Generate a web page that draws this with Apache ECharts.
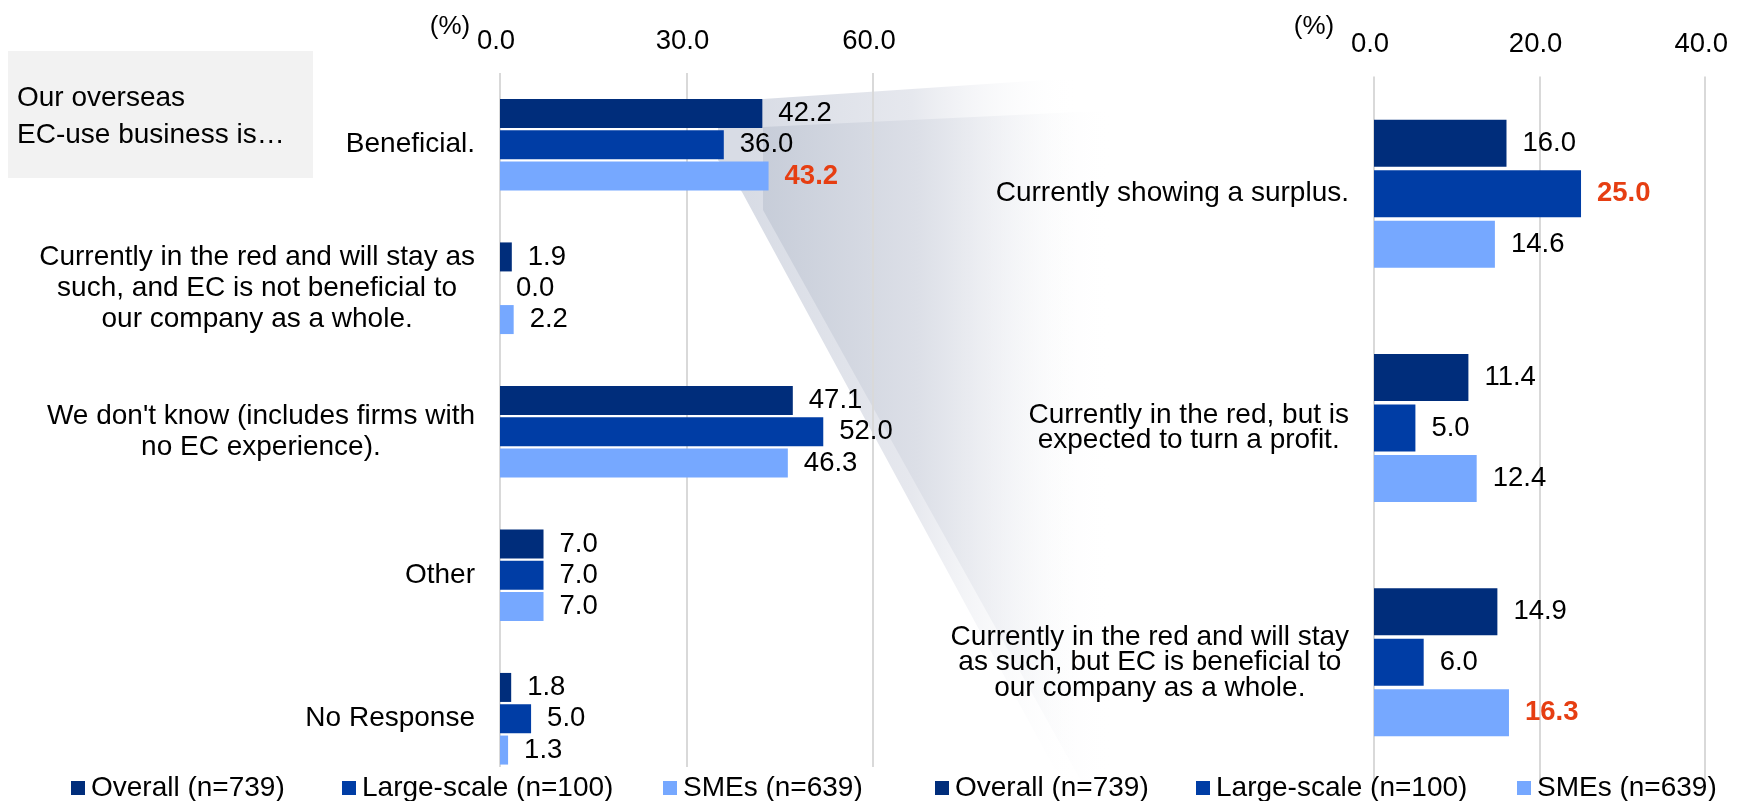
<!DOCTYPE html>
<html>
<head>
<meta charset="utf-8">
<script src="https://cdn.jsdelivr.net/npm/echarts@6/dist/echarts.min.js"></script>
<style>
  html, body { margin: 0; padding: 0; background: #ffffff; }
  #chart { width: 1739px; height: 801px; }
</style>
</head>
<body>
<div id="chart"></div>
<script>
// Survey: is the overseas EC-use business beneficial? (%)
const seriesNames = ['Overall (n=739)', 'Large-scale (n=100)', 'SMEs (n=639)'];

// Left panel: all respondents
const leftCategories = [
  'Beneficial.',
  'Currently in the red and will stay as\nsuch, and EC is not beneficial to\nour company as a whole.',
  "We don't know (includes firms with\nno EC experience).",
  'Other',
  'No Response'
];
const leftOverall = [42.2, 1.9, 47.1, 7.0, 1.8];
const leftLarge   = [36.0, 0.0, 52.0, 7.0, 5.0];
const leftSmes    = [43.2, 2.2, 46.3, 7.0, 1.3];
const leftAxisTicks = [0, 30, 60];

// Right panel: breakdown of "Beneficial."
const rightCategories = [
  'Currently showing a surplus.',
  'Currently in the red, but is\nexpected to turn a profit.',
  'Currently in the red and will stay\nas such, but EC is beneficial to\nour company as a whole.'
];
const rightOverall = [16.0, 11.4, 14.9];
const rightLarge   = [25.0, 5.0, 6.0];
const rightSmes    = [14.6, 12.4, 16.3];
const rightAxisTicks = [0, 20, 40];

// Highlighted values: [series index, category index]
const leftHighlights  = [[2, 0]];
const rightHighlights = [[1, 0], [2, 2]];

const boxTitle = 'Our overseas\nEC-use business is\u2026';
const unitText = '(%)';

const FONT = 'Arial, "Liberation Sans", sans-serif';
const COLORS = ['#002D7B', '#003DA5', '#76A8FF'];
const HILITE = '#E63E12';
const GRID_LINE = '#D9D9D9';

function buildData(values, seriesIdx, highlights) {
  return values.map((v, i) => {
    const hit = highlights.some(h => h[0] === seriesIdx && h[1] === i);
    return hit ? { value: v, label: { color: HILITE, fontWeight: 'bold' } } : { value: v };
  });
}

function barSeries(name, values, idx, axisIdx, highlights, barWidth, barGap) {
  return {
    name: name,
    type: 'bar',
    xAxisIndex: axisIdx,
    yAxisIndex: axisIdx,
    barWidth: barWidth,
    barGap: barGap,
    itemStyle: { color: COLORS[idx] },
    label: {
      show: true,
      position: 'right',
      distance: 16,
      fontFamily: FONT,
      fontSize: 27.5,
      color: '#000000',
      formatter: p => Number(p.value).toFixed(1)
    },
    emphasis: { disabled: true },
    data: buildData(values, idx, highlights),
    z: 3
  };
}

function centeredLines(v) {
  return v.split('\n').map(s => '{c|' + s + '}').join('\n');
}

function categoryAxis(gridIndex, data, lineHeight) {
  return {
    type: 'category',
    gridIndex: gridIndex,
    inverse: true,
    data: data,
    axisLine: { show: false },
    axisTick: { show: false },
    splitLine: { show: false },
    axisLabel: {
      margin: 25,
      formatter: centeredLines,
      rich: {
        c: { align: 'center', fontFamily: FONT, fontSize: 28, lineHeight: lineHeight, color: '#000000' }
      }
    }
  };
}

function valueAxis(gridIndex, ticks, showAxis) {
  return {
    type: 'value',
    gridIndex: gridIndex,
    position: 'top',
    min: ticks[0],
    max: ticks[ticks.length - 1],
    interval: ticks[1] - ticks[0],
    show: showAxis,
    axisLine: { show: false },
    axisTick: { show: false },
    splitLine: { show: true, lineStyle: { color: GRID_LINE, width: 2 } },
    axisLabel: {
      margin: 18,
      padding: [0, 8, 0, 0],
      fontFamily: FONT,
      fontSize: 27.5,
      lineHeight: 28,
      color: '#000000',
      formatter: v => v.toFixed(1)
    }
  };
}

// One legend entry per component so each key sits at its own x position
const legendLefts = [71, 342, 663, 935, 1196, 1517];
function legendItem(name, left) {
  return {
    left: left, top: 773, padding: 0,
    icon: 'rect', itemWidth: 14, itemHeight: 14,
    selectedMode: false,
    textStyle: { fontFamily: FONT, fontSize: 28, lineHeight: 30, color: '#000000', padding: [0, 0, 0, 1] },
    data: [name]
  };
}

const chart = echarts.init(document.getElementById('chart'), null, { renderer: 'canvas' });

// Zoom-out callout linking the "Beneficial." bars to the breakdown panel
const callout = [
  {
    type: 'polygon',
    z: -10,
    silent: true,
    shape: { points: [[763, 99], [1374, 58], [1374, 790], [1066, 790], [742, 192], [718, 160], [718, 128]] },
    style: {
      fill: {
        type: 'linear', x: 745, y: 0, x2: 1080, y2: 0, global: true,
        colorStops: [
          { offset: 0, color: '#D8DCE5' },
          { offset: 0.5, color: '#E6E8EE' },
          { offset: 1, color: 'rgba(255,255,255,0)' }
        ]
      }
    }
  },
  {
    type: 'polygon',
    z: -9,
    silent: true,
    shape: { points: [[763, 127], [1374, 98], [1374, 790], [1086, 790], [763, 210]] },
    style: {
      fill: {
        type: 'linear', x: 755, y: 0, x2: 1115, y2: 0, global: true,
        colorStops: [
          { offset: 0, color: '#C6CCD8' },
          { offset: 0.45, color: '#DCDFE7' },
          { offset: 1, color: 'rgba(255,255,255,0)' }
        ]
      }
    }
  }
];

chart.setOption({
  animation: false,
  backgroundColor: '#ffffff',
  textStyle: { fontFamily: FONT },
  grid: [
    { left: 500, right: 1739 - 873, top: 73, height: 717.5 },   // left bars
    { left: 500, right: 1739 - 873, top: 73, height: 694 },     // left gridlines + ticks
    { left: 1374, right: 1739 - 1711, top: 76.5, height: 703 } // right panel
  ],
  xAxis: [
    valueAxis(0, leftAxisTicks, false),
    valueAxis(1, leftAxisTicks, true),
    valueAxis(2, rightAxisTicks, true)
  ],
  yAxis: [
    categoryAxis(0, leftCategories, 31),
    { type: 'category', gridIndex: 1, data: [], show: false },
    categoryAxis(2, rightCategories, 25.5)
  ],
  legend: seriesNames.concat(seriesNames).map((n, i) => legendItem(n, legendLefts[i])),
  graphic: callout.concat([
    {
      type: 'rect', z: 1, silent: true,
      shape: { x: 8, y: 51, width: 305, height: 127 },
      style: { fill: '#F2F2F2' }
    },
    {
      type: 'text', z: 2, silent: true,
      x: 17, y: 117,
      style: {
        text: boxTitle, fontFamily: FONT, fontSize: 28, lineHeight: 37,
        fill: '#000000', align: 'left', verticalAlign: 'middle'
      }
    },
    {
      type: 'text', z: 2, silent: true,
      x: 450, y: 27,
      style: { text: unitText, fontFamily: FONT, fontSize: 26, fill: '#000000', align: 'center', verticalAlign: 'middle' }
    },
    {
      type: 'text', z: 2, silent: true,
      x: 1314, y: 27,
      style: { text: unitText, fontFamily: FONT, fontSize: 26, fill: '#000000', align: 'center', verticalAlign: 'middle' }
    }
  ]),
  series: [
    barSeries(seriesNames[0], leftOverall, 0, 0, leftHighlights, 29, '8%'),
    barSeries(seriesNames[1], leftLarge,   1, 0, leftHighlights, 29, '8%'),
    barSeries(seriesNames[2], leftSmes,    2, 0, leftHighlights, 29, '8%'),
    barSeries(seriesNames[0], rightOverall, 0, 2, rightHighlights, 47, '7.5%'),
    barSeries(seriesNames[1], rightLarge,   1, 2, rightHighlights, 47, '7.5%'),
    barSeries(seriesNames[2], rightSmes,    2, 2, rightHighlights, 47, '7.5%')
  ]
});
</script>
</body>
</html>
